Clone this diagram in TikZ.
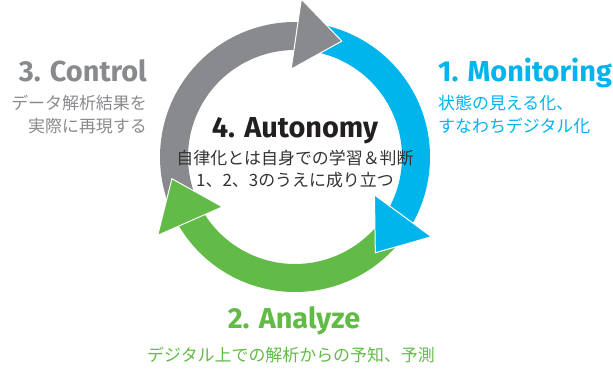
\documentclass[tikz,border=0pt]{standalone}
\usepackage{fontspec}
\setmainfont{Fira Sans}
\newfontfamily\jpfont{Noto Sans CJK JP}
\usetikzlibrary{positioning,calc}
\definecolor{ctrlgray}{HTML}{898A8E}
\definecolor{monblue}{HTML}{00B4EC}
\definecolor{anagreen}{HTML}{62BB46}
\definecolor{autoblack}{HTML}{231F20}
\definecolor{autotext}{HTML}{333333}

\tikzset{
  band/.style={line width=28bp},
  head/.style={draw=white, line width=1bp},
  title/.style={font=\fontsize{29}{31}\selectfont\bfseries, inner sep=0pt},
  caption/.style={font=\jpfont\fontsize{17}{19}\selectfont, inner sep=0pt},
}

\begin{document}
\begin{tikzpicture}[x=1bp,y=1bp]
    \useasboundingbox (0,0) rectangle (613,368);
    \coordinate (center) at (295,211);

    % bands of the cycle
    \foreach \tip/\col in {68/ctrlgray, -50/monblue, 190/anagreen} {
      \pgfmathsetmacro\tail{\tip+135}
      \pgfmathsetmacro\base{\tip+20}
      \draw[band, \col] ($(center)+(\tail:121)$)
        arc[start angle=\tail, end angle=\base, radius=121];
    }

    % arrow heads
    \foreach \tip/\col in {68/ctrlgray, -50/monblue, 190/anagreen} {
      \pgfmathsetmacro\inner{\tip+24.5}
      \pgfmathsetmacro\outer{\tip+19.7}
      \fill[head, fill=\col] ($(center)+(\inner:88)$) -- ($(center)+(\outer:158)$)
        -- ($(center)+(\tip:125)$) -- cycle;
    }

    % 4. Autonomy
    \node[title, autoblack, anchor=base] (autonomy) at (295,231) {4. Autonomy};
    \node[caption, autotext] (autoa) at (295,210) {自律化とは自身での学習＆判断};
    \node[caption, autotext] (autob) at (295,188) {1、2、3のうえに成り立つ};

    % 1. Monitoring
    \node[title, monblue, anchor=base west] (monitor) at (438,287) {1. Monitoring};
    \node[caption, monblue, anchor=west] (monitora) at (438,265) {状態の見える化、};
    \node[caption, monblue, anchor=west] (monitorb) at (438,242) {すなわちデジタル化};

    % 2. Analyze
    \node[title, anagreen, anchor=base] (analyze) at (294,40) {2. Analyze};
    \node[caption, anagreen] (analyzea) at (291,13) {デジタル上での解析からの予知、予測};

    % 3. Control
    \node[title, ctrlgray, anchor=base east] (control) at (147,287) {3. Control};
    \node[caption, ctrlgray, anchor=east] (controla) at (147,265) {データ解析結果を};
    \node[caption, ctrlgray, anchor=east] (controlb) at (147,242) {実際に再現する};
\end{tikzpicture}
\end{document}
